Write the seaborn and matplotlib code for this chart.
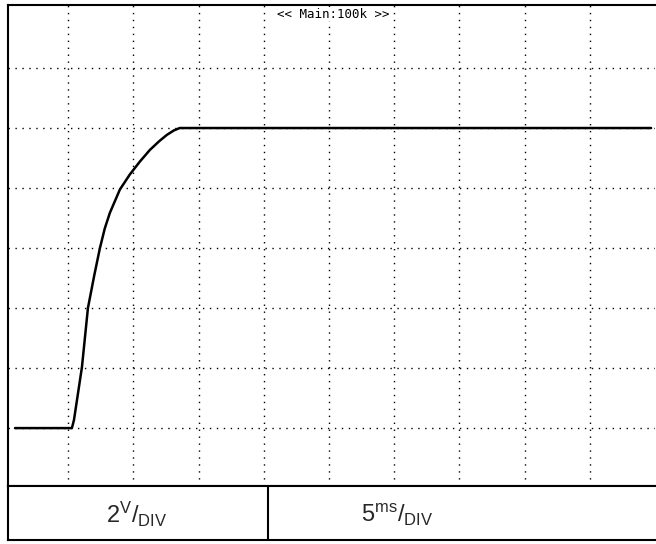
import numpy as np, matplotlib
matplotlib.use("Agg")
import matplotlib.pyplot as plt; import seaborn as sns
import pandas as pd

# ── scope trace (time in ms, voltage in V) ──
t_ms = [0.92, 5.28, 5.44, 6.05, 6.51, 7.00, 7.43, 7.80, 8.19, 8.96, 9.72, 10.49, 11.26, 12.00, 12.56, 13.10, 13.55, 49.7]
volts = [0.0, 0.0, 0.27, 2.03, 4.0, 5.1, 6.0, 6.65, 7.17, 7.95, 8.45, 8.88, 9.27, 9.57, 9.77, 9.92, 10.0, 10.0]
x_ticks = [5, 10, 15, 20, 25, 30, 35, 40, 45]
y_ticks = [0, 2, 4, 6, 8, 10, 12]
header = "<< Main:100k >>"
volt_label = r"$\mathregular{2^{V}/_{DIV}}$"
time_label = r"$\mathregular{5^{ms}/_{DIV}}$"

sns.set_style("white")
plt.rcParams['font.family'] = ['Liberation Sans', 'DejaVu Sans']
plt.rcParams['mathtext.fontset'] = 'custom'
plt.rcParams['mathtext.rm'] = 'Liberation Sans'

W, H = 656, 544
fig = plt.figure(figsize=(W/100, H/100), dpi=100)
fig.patch.set_facecolor("white")

# screen area
ax = fig.add_axes([8/W, (H-486)/H, (655-8)/W, (486-5)/H])
df = pd.DataFrame({"t": t_ms, "v": volts})
sns.lineplot(data=df, x="t", y="v", color="black", lw=1.8, sort=False, estimator=None, ax=ax)
ax.set_xlim(0.38, 50.0); ax.set_ylim(-1.93, 14.1)
ax.set_xticks(x_ticks); ax.set_yticks(y_ticks)
ax.grid(True, color="black", linestyle=(0, (1, 4)), linewidth=1.0)
ax.set_axisbelow(True)
ax.tick_params(left=False, bottom=False, labelleft=False, labelbottom=False)
ax.set_xlabel(""); ax.set_ylabel("")
for s in ax.spines.values():
    s.set_color("black"); s.set_linewidth(1.5)
ax.spines["right"].set_visible(False)

ax.text(333/W, 1-14/H, header, ha="center", va="center", fontsize=9,
        family="DejaVu Sans Mono", color="black", transform=fig.transFigure, zorder=1,
        bbox=dict(facecolor="white", edgecolor="none", pad=0.5))

# scale table under the screen
tab = fig.add_axes([8/W, (H-540)/H, (656-8)/W, (540-486)/H])
tab.set_xlim(8, 656); tab.set_ylim(0, 1)
tab.set_xticks([]); tab.set_yticks([])
for s in tab.spines.values():
    s.set_color("black"); s.set_linewidth(1.5)
tab.spines["right"].set_visible(False)
tab.axvline(268, color="black", lw=1.5)
tab.text(137, 0.47, volt_label, ha="center", va="center", fontsize=17)
tab.text(397, 0.47, time_label, ha="center", va="center", fontsize=17)

plt.savefig("out.png", dpi=100); plt.close()
